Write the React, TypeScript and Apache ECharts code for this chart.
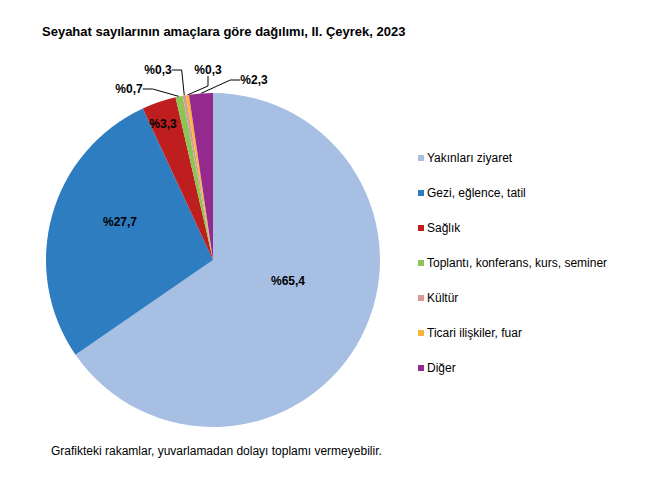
import React, { useEffect, useRef } from "react";
import * as echarts from "echarts";

const categories = [
  "Yakınları ziyaret",
  "Gezi, eğlence, tatil",
  "Sağlık",
  "Toplantı, konferans, kurs, seminer",
  "Kültür",
  "Ticari ilişkiler, fuar",
  "Diğer",
];
const values = [65.4, 27.7, 3.3, 0.7, 0.3, 0.3, 2.3];
const colors = ["#A7BFE3", "#2E7DC1", "#BE1E1E", "#8CC556", "#D99A9B", "#F7B53F", "#952A8E"];
const titleText = "Seyahat sayılarının amaçlara göre dağılımı, II. Çeyrek, 2023";
const noteText = "Grafikteki rakamlar, yuvarlamadan dolayı toplamı vermeyebilir.";

// label anchor positions (label centers)
const labelPos: [number, number][] = [
  [288, 281],
  [120, 222],
  [163, 124],
  [129, 89],
  [158, 70],
  [208, 70],
  [254, 80],
];
const outside = [false, false, false, true, true, true, true];

export default function App() {
  const ref = useRef<HTMLDivElement>(null);
  useEffect(() => {
    if (!ref.current) return;
    const chart = echarts.init(ref.current, null, { renderer: "svg" });
    const font = "'Liberation Sans', Arial, sans-serif";
    chart.setOption({
      animation: false,
      backgroundColor: "#ffffff",
      title: {
        text: titleText,
        left: 37,
        top: 20,
        textStyle: { fontFamily: font, fontSize: 13, fontWeight: "bold", color: "#000" },
      },
      legend: {
        orient: "vertical",
        left: 413,
        top: 147,
        itemWidth: 6,
        itemHeight: 6,
        itemGap: 23,
        icon: "rect",
        data: categories,
        textStyle: { fontFamily: font, fontSize: 12, color: "#000", padding: [0, 0, 0, -2] },
      },
      graphic: [
        {
          type: "text",
          left: 51,
          top: 445,
          style: { text: noteText, font: `12px ${font}`, fill: "#000" },
        },
      ],
      series: [
        {
          type: "pie",
          center: [213, 260],
          radius: 167,
          startAngle: 90,
          clockwise: true,
          avoidLabelOverlap: false,
          itemStyle: { borderWidth: 0 },
          data: categories.map((c, i) => ({
            name: c,
            value: values[i],
            itemStyle: { color: colors[i] },
            label: {
              show: true,
              position: outside[i] ? "outside" : "inside",
            },
            labelLine: { show: outside[i], length: 10, length2: 10, lineStyle: { color: "#000", width: 1 } },
          })),
          label: {
            fontFamily: font,
            fontSize: 12,
            fontWeight: "bold",
            color: "#000",
            formatter: (p: any) => "%" + String(p.value).replace(".", ","),
          },
          labelLayout: (p: any) => ({
            x: labelPos[p.dataIndex][0],
            y: labelPos[p.dataIndex][1],
            align: "center",
            verticalAlign: "middle",
          }),
          emphasis: { disabled: true },
        },
      ],
    });
    return () => chart.dispose();
  }, []);
  return (
    <div
      ref={ref}
      style={{ position: "fixed", left: 0, top: 0, width: 650, height: 479 }}
    />
  );
}
